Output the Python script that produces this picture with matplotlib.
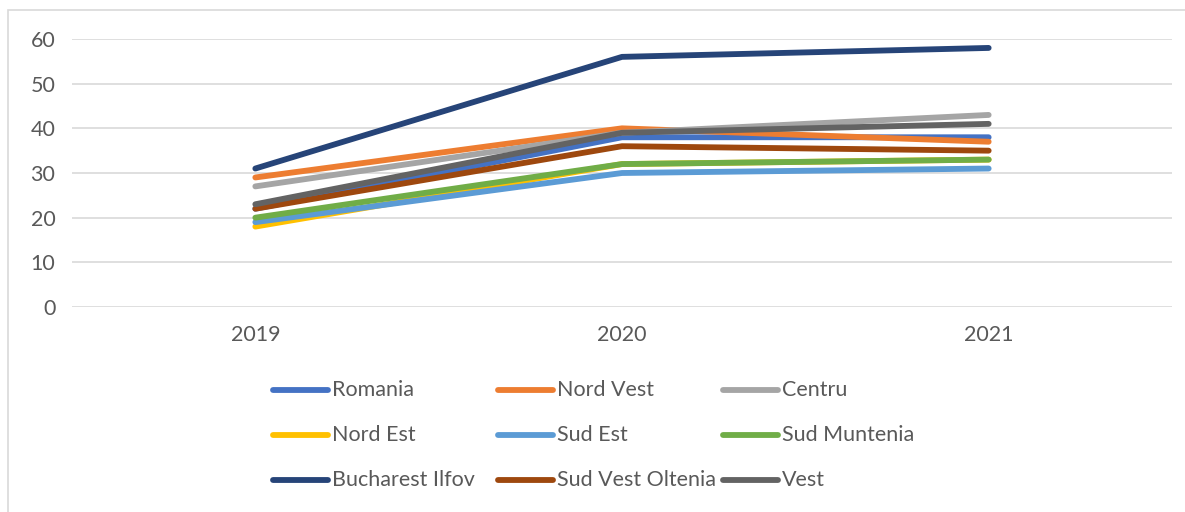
import matplotlib.pyplot as plt
from matplotlib.lines import Line2D
from matplotlib.patches import Rectangle

# ── Data ──────────────────────────────────────────────────────────────────────
YEARS = ['2019', '2020', '2021']

SERIES = ['Romania', 'Nord Vest', 'Centru', 'Nord Est', 'Sud Est',
          'Sud Muntenia', 'Bucharest Ilfov', 'Sud Vest Oltenia', 'Vest']

romania          = [22, 38, 38]
nord_vest        = [29, 40, 37]
centru           = [27, 39, 43]
nord_est         = [18, 32, 33]
sud_est          = [19, 30, 31]
sud_muntenia     = [20, 32, 33]
bucharest_ilfov  = [31, 56, 58]
sud_vest_oltenia = [22, 36, 35]
vest             = [23, 39, 41]

VALUES = [romania, nord_vest, centru, nord_est, sud_est,
          sud_muntenia, bucharest_ilfov, sud_vest_oltenia, vest]

COLORS = ['#4472C4', '#ED7D31', '#A5A5A5', '#FFC000', '#5B9BD5',
          '#70AD47', '#264478', '#9E480E', '#636363']

# ── Style ─────────────────────────────────────────────────────────────────────
W, H = 1185, 512
TXT = '#595959'
FS = 15.5
LW = 4.2
plt.rcParams['font.family'] = ['Lato', 'DejaVu Sans']

fig = plt.figure(figsize=(W / 100, H / 100), dpi=100)

# outer chart frame (runs off the right/bottom edge in the reference)
fig.patches.append(Rectangle((8 / W, -0.2), 1.2, 1.2 - 10 / H,
                             transform=fig.transFigure, fill=False,
                             edgecolor='#D9D9D9', linewidth=1.2))

ax = fig.add_axes([72 / W, 1 - 307 / H, 1100 / W, 268 / H])
x = range(len(YEARS))
for vals, col in zip(VALUES, COLORS):
    ax.plot(x, vals, color=col, linewidth=LW, solid_capstyle='round',
            solid_joinstyle='round')

ax.set_xlim(-0.5, len(YEARS) - 0.5)
ax.set_ylim(0, 60)
ax.set_yticks(range(0, 61, 10))
ax.set_xticks(list(x))
ax.set_xticklabels(YEARS)
ax.grid(axis='y', color='#D9D9D9', linewidth=1.2)
ax.set_axisbelow(True)
for s in ax.spines.values():
    s.set_visible(False)
ax.tick_params(length=0, labelsize=FS, colors=TXT)
ax.tick_params(axis='y', pad=12)
ax.tick_params(axis='x', pad=13)

# ── Legend (3 columns, row-wise like the spreadsheet) ─────────────────────────
for i, (name, col) in enumerate(zip(SERIES, COLORS)):
    r, c = divmod(i, 3)
    x0 = 273 + c * 225
    y0 = 390 + r * 45
    fig.add_artist(Line2D([x0 / W, (x0 + 55) / W], [1 - y0 / H, 1 - y0 / H],
                          transform=fig.transFigure, color=col,
                          linewidth=LW, solid_capstyle='round'))
    fig.text((x0 + 59) / W, 1 - y0 / H, name, fontsize=FS, color=TXT,
             va='center', ha='left')

fig.savefig('out.png', dpi=100)
